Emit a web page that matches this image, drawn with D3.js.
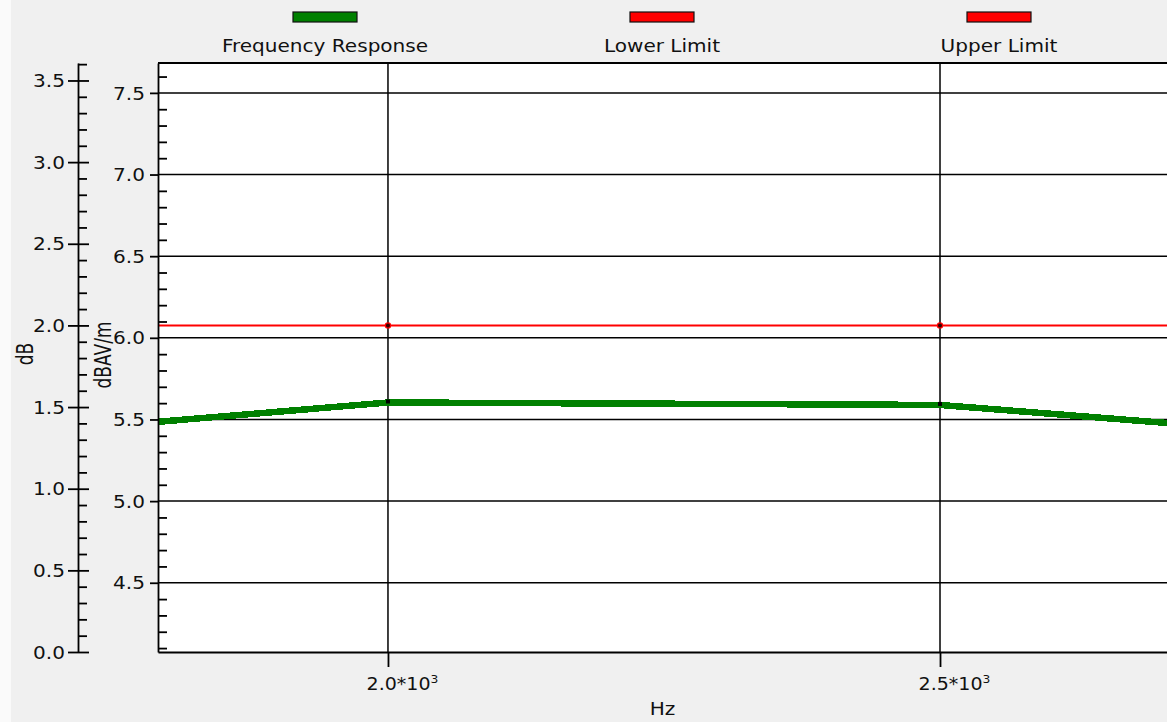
<!DOCTYPE html>
<html>
<head>
<meta charset="utf-8">
<script src="https://cdn.jsdelivr.net/npm/d3@7"></script>
<style>
body { margin: 0; background: #f0f0f0; }
svg { display: block; }
text { font-family: "DejaVu Sans", sans-serif; font-size: 17px; fill: #111; }
</style>
</head>
<body>
<svg width="1167" height="722"></svg>
<script>
// data
var freqHz = [1500, 2000, 2500, 3000];
var responseDbAVm = [5.32, 5.604, 5.589, 5.32];
var limitHz = [1500, 2000, 2500, 3000];
var upperLimitDb = [2.0, 2.0, 2.0, 2.0];
var lowerLimitDb = [-2.0, -2.0, -2.0, -2.0];

var seriesNames = ["Frequency Response", "Lower Limit", "Upper Limit"];
var seriesColors = ["#008000", "#ff0000", "#ff0000"];

var dbTicks = [0, 0.5, 1.0, 1.5, 2.0, 2.5, 3.0, 3.5];
var dbavmTicks = [4.5, 5.0, 5.5, 6.0, 6.5, 7.0, 7.5];
var hzTicks = [2000, 2500];
var hzMantissa = ["2.0", "2.5"];
var hzExponent = "3";
var minorStep = 0.1;

var svg = d3.select("svg"),
    W = +svg.attr("width"),
    H = +svg.attr("height"),
    plot = {left: 158, right: 1167, top: 63, bottom: 652},
    dbAxisX = 78,
    sx = 1.18; // text in the picture is a bit wide

// background
svg.append("rect").attr("width", W).attr("height", H).attr("fill", "#f0f0f0");
svg.append("rect").attr("width", 11).attr("height", H).attr("fill", "#fafafa");
svg.append("rect")
    .attr("x", plot.left).attr("y", plot.top)
    .attr("width", plot.right - plot.left).attr("height", plot.bottom - plot.top)
    .attr("fill", "#fff");

// scales
var x = d3.scaleLinear().domain([1791.7, 2705.6]).range([plot.left, plot.right]);
var yDb = d3.scaleLinear().domain([0, 3.607]).range([plot.bottom, plot.top]);
var yAv = d3.scaleLinear().domain([4.076, 7.683]).range([plot.bottom, plot.top]);

function minors(scale, majors) {
    var d = scale.domain();
    return d3.range(Math.ceil(d[0] / minorStep) * minorStep, d[1], minorStep)
        .filter(function(v) {
            return !majors.some(function(m) { return Math.abs(m - v) < 1e-6; });
        });
}

function stretch(sel, tx, ty, extra, k) {
    sel.attr("x", null).attr("y", null).attr("dy", null)
        .attr("transform", "translate(" + tx + "," + ty + ") scale(" + (k || sx) + ",1)" + (extra || ""));
}

// grid
var grid = svg.append("g").attr("stroke", "#000").attr("stroke-width", 1.5);
grid.selectAll(".hg").data(dbavmTicks).enter().append("line")
    .attr("x1", plot.left).attr("x2", plot.right)
    .attr("y1", function(d) { return yAv(d); }).attr("y2", function(d) { return yAv(d); });
grid.selectAll(".vg").data(hzTicks).enter().append("line")
    .attr("y1", plot.top).attr("y2", plot.bottom)
    .attr("x1", function(d) { return x(d); }).attr("x2", function(d) { return x(d); });
grid.append("line")
    .attr("x1", plot.left).attr("x2", plot.right)
    .attr("y1", plot.top).attr("y2", plot.top)
    .attr("stroke-width", 2);

// data
svg.append("clipPath").attr("id", "clip").append("rect")
    .attr("x", plot.left).attr("y", plot.top)
    .attr("width", plot.right - plot.left).attr("height", plot.bottom - plot.top);
var data = svg.append("g").attr("clip-path", "url(#clip)");

var limitLine = d3.line()
    .x(function(d, i) { return x(limitHz[i]); })
    .y(function(d) { return yDb(d); });

[lowerLimitDb, upperLimitDb].forEach(function(vals, k) {
    data.append("path")
        .datum(vals)
        .attr("fill", "none")
        .attr("stroke", seriesColors[k + 1])
        .attr("stroke-width", 2)
        .attr("d", limitLine);
    data.selectAll(null).data(vals).enter().append("circle")
        .attr("cx", function(d, i) { return x(limitHz[i]); })
        .attr("cy", function(d) { return yDb(d); })
        .attr("r", 2.6)
        .attr("fill", "#300")
        .attr("stroke", "#f00")
        .attr("stroke-width", 1.2);
});

var respLine = d3.line()
    .x(function(d, i) { return x(freqHz[i]); })
    .y(function(d) { return yAv(d); });

data.append("path")
    .datum(responseDbAVm)
    .attr("fill", "none")
    .attr("stroke", seriesColors[0])
    .attr("stroke-width", 6.5)
    .attr("shape-rendering", "crispEdges")
    .attr("d", respLine);

data.selectAll(null).data(responseDbAVm).enter().append("rect")
    .attr("x", function(d, i) { return x(freqHz[i]) - 2; })
    .attr("y", function(d) { return yAv(d) - 3; })
    .attr("width", 4).attr("height", 4)
    .attr("fill", "#000");

// left dB axis
var gDb = svg.append("g").attr("transform", "translate(" + dbAxisX + ",0)").attr("color", "#000");
gDb.call(d3.axisLeft(yDb).tickValues(dbTicks).tickSize(10).tickSizeOuter(0).tickPadding(3)
    .tickFormat(d3.format(".1f")));
gDb.append("g").call(d3.axisRight(yDb).tickValues(dbTicks).tickSize(11).tickFormat(""))
    .select(".domain").remove();
gDb.append("g").call(d3.axisRight(yDb).tickValues(minors(yDb, dbTicks)).tickSize(9).tickFormat(""))
    .select(".domain").remove();
gDb.selectAll(".domain, line").attr("stroke-width", 1.8);
gDb.selectAll("text").attr("font-size", null).attr("font-family", null)
    .each(function() { stretch(d3.select(this), -13, 0); })
    .attr("dy", "0.36em").attr("text-anchor", "end");

// right dBAV/m axis
var gAv = svg.append("g").attr("transform", "translate(" + plot.left + ",0)").attr("color", "#000");
gAv.call(d3.axisLeft(yAv).tickValues(dbavmTicks).tickSize(8).tickSizeOuter(0).tickPadding(5)
    .tickFormat(d3.format(".1f")));
gAv.append("g").call(d3.axisRight(yAv).tickValues(minors(yAv, dbavmTicks)).tickSize(9).tickFormat(""))
    .select(".domain").remove();
gAv.selectAll(".domain, line").attr("stroke-width", 1.8);
gAv.selectAll("text").attr("font-size", null).attr("font-family", null)
    .each(function() { stretch(d3.select(this), -13, 0); })
    .attr("dy", "0.36em").attr("text-anchor", "end");

// x axis
var gX = svg.append("g").attr("transform", "translate(0," + plot.bottom + ")").attr("color", "#000");
gX.call(d3.axisBottom(x).tickValues(hzTicks).tickSize(15).tickSizeOuter(0));
gX.selectAll(".domain, line").attr("stroke-width", 1.8);
gX.selectAll("text").attr("font-size", "16px").attr("font-family", null)
    .each(function(d, i) {
        var t = d3.select(this).text(null).attr("text-anchor", "middle");
        stretch(t, 14, 38, "", 1.12);
        t.append("tspan").text(hzMantissa[i] + "*10");
        t.append("tspan").attr("font-size", "11px").attr("dy", "-7").text(hzExponent);
    });

// axis titles
svg.append("text").attr("text-anchor", "middle").text("Hz")
    .call(stretch, (plot.left + plot.right) / 2, 715);
svg.append("text").attr("text-anchor", "middle").attr("font-size", "18px").text("dB")
    .call(stretch, 33, 354, " rotate(-90)", 1.35);
svg.append("text").attr("text-anchor", "middle").attr("font-size", "18px").text("dBAV/m")
    .call(stretch, 111, 355, " rotate(-90)", 1.3);

// legend
var legend = svg.append("g").selectAll("g")
    .data(seriesNames)
    .enter().append("g")
    .attr("transform", function(d, i) { return "translate(" + (325 + i * 337) + ",0)"; });
legend.append("rect")
    .attr("x", -32).attr("y", 12)
    .attr("width", 64).attr("height", 10)
    .attr("fill", function(d, i) { return seriesColors[i]; })
    .attr("stroke", "#111").attr("stroke-width", 1.2);
legend.append("text")
    .attr("text-anchor", "middle")
    .text(function(d) { return d; })
    .each(function() { stretch(d3.select(this), 0, 52); });
</script>
</body>
</html>
